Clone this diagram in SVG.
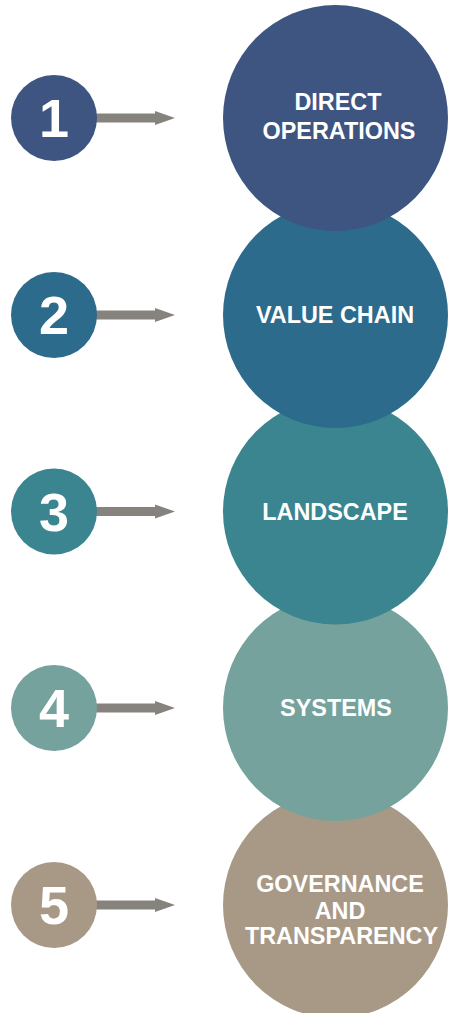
<svg xmlns="http://www.w3.org/2000/svg" width="449" height="1013" viewBox="0 0 449 1013">
<style>
.num{font-family:"Liberation Sans",Arial,sans-serif;font-weight:bold;font-size:54px;fill:#fff;text-anchor:middle}
.lbl{font-family:"Liberation Sans",Arial,sans-serif;font-weight:bold;font-size:23.4px;fill:#fff;text-anchor:middle}
.c1{fill:#3e5582}.c2{fill:#2c6b8b}.c3{fill:#3a858f}.c4{fill:#75a29d}.c5{fill:#a89986}
.arr{fill:#86837f}
</style>
<defs>
<path id="arrow" d="M96,-4.5 L155,-4.5 L155,-7 L175,0 L155,7 L155,4.5 L96,4.5 Z"/>
</defs>
<g id="big-circles">
<g id="node-5-big"><ellipse class="c5" cx="335.5" cy="905" rx="112.5" ry="113"/><text class="lbl" x="340" y="892">GOVERNANCE</text><text class="lbl" x="340" y="919">AND</text><text class="lbl" x="341.5" y="944">TRANSPARENCY</text></g>
<g id="node-4-big"><ellipse class="c4" cx="335.5" cy="708" rx="112.5" ry="113"/><text class="lbl" x="336" y="716">SYSTEMS</text></g>
<g id="node-3-big"><ellipse class="c3" cx="335.5" cy="511.5" rx="112.5" ry="113"/><text class="lbl" x="335" y="519.5">LANDSCAPE</text></g>
<g id="node-2-big"><ellipse class="c2" cx="335.5" cy="315" rx="112.5" ry="113"/><text class="lbl" x="335" y="323">VALUE CHAIN</text></g>
<g id="node-1-big"><ellipse class="c1" cx="335.5" cy="118" rx="112.5" ry="113"/><text class="lbl" x="338" y="110">DIRECT</text><text class="lbl" x="339" y="139">OPERATIONS</text></g>
</g>
<g id="connectors">
<use href="#arrow" class="arr" y="118"/>
<use href="#arrow" class="arr" y="315"/>
<use href="#arrow" class="arr" y="511.5"/>
<use href="#arrow" class="arr" y="708"/>
<use href="#arrow" class="arr" y="905"/>
</g>
<g id="node-1"><circle class="c1" cx="54" cy="118" r="43"/><text class="num" x="54" y="137">1</text></g>
<g id="node-2"><circle class="c2" cx="54" cy="315" r="43"/><text class="num" x="54" y="334">2</text></g>
<g id="node-3"><circle class="c3" cx="54" cy="511.5" r="43"/><text class="num" x="54" y="530.5">3</text></g>
<g id="node-4"><circle class="c4" cx="54" cy="708" r="43"/><text class="num" x="54" y="727">4</text></g>
<g id="node-5"><circle class="c5" cx="54" cy="905" r="43"/><text class="num" x="54" y="924">5</text></g>
</svg>
